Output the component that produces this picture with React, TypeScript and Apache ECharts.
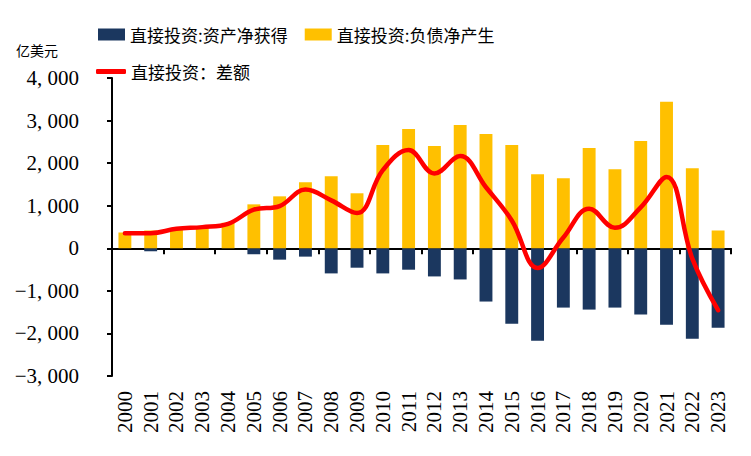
import { useEffect, useRef } from 'react';
import * as echarts from 'echarts';

const years = [
  '2000', '2001', '2002', '2003', '2004', '2005', '2006', '2007', '2008', '2009', '2010', '2011',
  '2012', '2013', '2014', '2015', '2016', '2017', '2018', '2019', '2020', '2021', '2022', '2023',
];

// 直接投资:资产净获得 (亿美元)
const assetNet = [
  0, -70, 0, 0, 0, -140, -267, -196, -590, -456, -590, -503,
  -661, -732, -1251, -1771, -2172, -1393, -1440, -1393, -1558, -1794, -2125, -1865,
];

// 直接投资:负债净产生
const liabilityNet = [
  370, 418, 470, 500, 600, 1032, 1220, 1551, 1693, 1292, 2425, 2803,
  2401, 2897, 2684, 2425, 1740, 1646, 2354, 1858, 2519, 3440, 1882, 418,
];

// 直接投资：差额
const balance = [
  354, 355, 458, 497, 575, 907, 992, 1378, 1126, 826, 1835, 2307,
  1757, 2165, 1433, 654, -463, 253, 930, 480, 961, 1677, -243, -1455,
];

const SERIF = 'Liberation Serif';
const CJK = 'Noto Sans CJK SC';

const App = () => {
  const chartRef = useRef<HTMLDivElement>(null);

  useEffect(() => {
    document.body.style.margin = '0';
    if (!chartRef.current) return;

    const chart = echarts.init(chartRef.current, null, { renderer: 'svg' });

    const option = {
      animation: false,
      backgroundColor: '#fff',
      title: {
        text: '亿美元',
        left: 11,
        top: 38,
        textStyle: { fontFamily: CJK, fontSize: 14, fontWeight: 'normal', color: '#000' },
      },
      legend: [
        {
          data: ['直接投资:资产净获得', '直接投资:负债净产生'],
          left: 93,
          top: 21,
          itemWidth: 27,
          itemHeight: 12,
          itemGap: 17,
          icon: 'rect',
          textStyle: { fontFamily: CJK, fontSize: 17, color: '#000' },
        },
        {
          data: [{ name: '直接投资：差额', icon: 'roundRect' }],
          left: 91,
          top: 58,
          itemWidth: 30,
          itemHeight: 5,
          textStyle: { fontFamily: CJK, fontSize: 17, color: '#000' },
        },
      ],
      grid: { left: 112, right: 20, top: 78, bottom: 80 },
      xAxis: [
        {
          // axis line at zero with ticks between categories
          type: 'category',
          data: years,
          position: 'bottom',
          axisLine: { onZero: true, lineStyle: { color: '#000', width: 2 } },
          axisTick: { show: true, length: 6, lineStyle: { color: '#000', width: 2 } },
          axisLabel: { show: false },
          splitLine: { show: false },
        },
        {
          // year labels at the bottom of the grid
          type: 'category',
          data: years,
          position: 'bottom',
          axisLine: { show: false, onZero: false },
          axisTick: { show: false },
          axisLabel: {
            rotate: 90,
            interval: 0,
            margin: 15,
            fontFamily: SERIF,
            fontSize: 21,
            color: '#000',
          },
          splitLine: { show: false },
        },
      ],
      yAxis: {
        type: 'value',
        min: -3000,
        max: 4000,
        interval: 1000,
        axisLine: { show: true, lineStyle: { color: '#000', width: 2 } },
        axisTick: { show: true, length: 5, lineStyle: { color: '#000', width: 2 } },
        splitLine: { show: false },
        axisLabel: {
          margin: 33,
          fontFamily: SERIF,
          fontSize: 21,
          color: '#000',
          formatter: (v: number) =>
            v.toLocaleString('en-US').replace(',', ', ').replace('-', '\u2212'),
        },
      },
      series: [
        {
          name: '直接投资:资产净获得',
          type: 'bar',
          stack: 'fdi',
          barWidth: '50%',
          data: assetNet,
          itemStyle: { color: '#1B375F' },
        },
        {
          name: '直接投资:负债净产生',
          type: 'bar',
          stack: 'fdi',
          barWidth: '50%',
          data: liabilityNet,
          itemStyle: { color: '#FFC000' },
        },
        {
          name: '直接投资：差额',
          type: 'line',
          data: balance,
          smooth: 0.4,
          symbol: 'none',
          showSymbol: false,
          z: 5,
          lineStyle: { color: '#FF0000', width: 4.5, cap: 'round' },
          itemStyle: { color: '#FF0000' },
        },
      ],
    };

    chart.setOption(option);

    return () => {
      chart.dispose();
    };
  }, []);

  return <div ref={chartRef} style={{ width: '751px', height: '456px' }} />;
};

export default App;
